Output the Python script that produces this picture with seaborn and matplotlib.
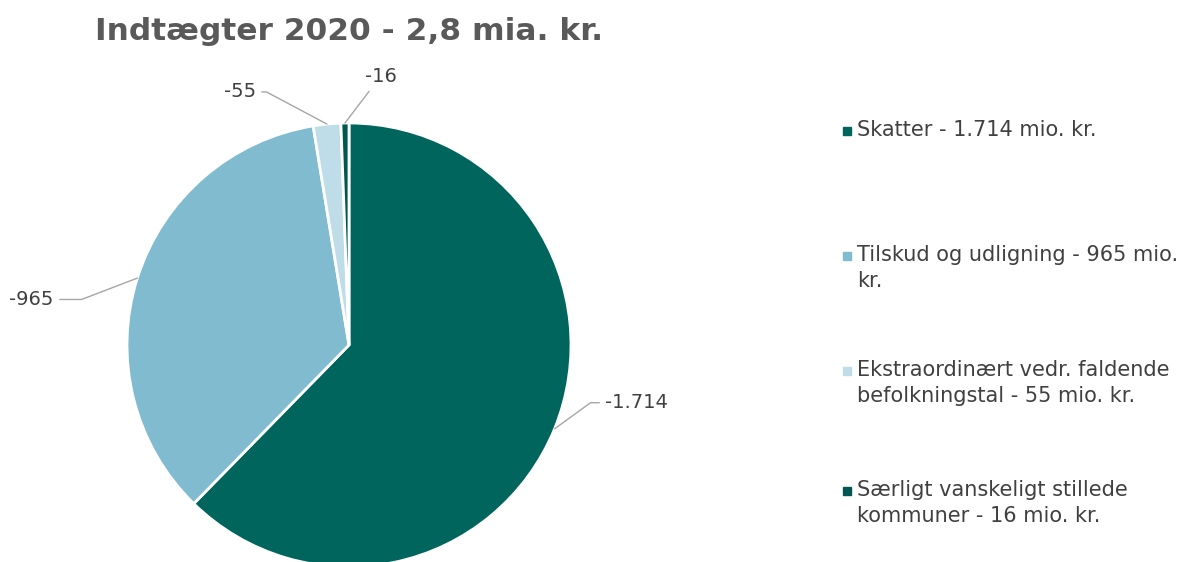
import numpy as np
import matplotlib
matplotlib.use("Agg")
import matplotlib.pyplot as plt
import seaborn as sns

# Data
categories = ["Skatter", "Tilskud og udligning",
              "Ekstraordinært vedr. faldende befolkningstal",
              "Særligt vanskeligt stillede kommuner"]
values = [1714, 965, 55, 16]
value_labels = ["-1.714", "-965", "-55", "-16"]
legend_labels = ["Skatter - 1.714 mio. kr.",
                 "Tilskud og udligning - 965 mio.\nkr.",
                 "Ekstraordinært vedr. faldende\nbefolkningstal - 55 mio. kr.",
                 "Særligt vanskeligt stillede\nkommuner - 16 mio. kr."]
colors = ["#00655C", "#80BBD0", "#BEDDE8", "#00574F"]
title = "Indtægter 2020 - 2,8 mia. kr."

sns.set_theme(style="white")
plt.rcParams['font.family'] = ['DejaVu Sans']

W, H = 1193, 562
fig = plt.figure(figsize=(W / 100, H / 100), dpi=100)

# pie axes: centre at (349, 345) px, radius 222 px
cx, cy, R = 349, 345, 222
ax = fig.add_axes([0, 0, 800 / W, 1])
wedges, _ = ax.pie(values, colors=colors, startangle=90, counterclock=False,
                   wedgeprops=dict(edgecolor="white", linewidth=2))
ax.set_xlim(-cx / R, (800 - cx) / R)
ax.set_ylim(-(H - cy) / R, cy / R)
ax.set_aspect("equal")
ax.axis("off")

# data label placement (text anchor in data units, ha, connector angle)
label_pos = [(1.155, -0.26, "left", 36),
             (-1.33, 0.205, "right", 21),
             (-0.42, 1.14, "right", -28),
             (0.07, 1.21, "left", None)]
for w, lab, (tx, ty, ha, angB) in zip(wedges, value_labels, label_pos):
    mid = np.deg2rad((w.theta1 + w.theta2) / 2)
    xy = (np.cos(mid), np.sin(mid))
    cs = f"angle,angleA=0,angleB={angB},rad=0" if angB is not None else "arc3"
    ax.annotate(lab, xy=xy, xytext=(tx, ty), ha=ha, va="center",
                fontsize=14, color="#404040",
                arrowprops=dict(arrowstyle="-", color="#A6A6A6", lw=1,
                                connectionstyle=cs, shrinkA=2, shrinkB=0))

fig.text(cx / W, 1 - 32 / H, title, ha="center", va="center",
         fontsize=22.5, fontweight="bold", color="#595959")

# legend
row_y = [131, 256, 371, 491]
for lab, col, y in zip(legend_labels, colors, row_y):
    fig.patches.append(plt.Rectangle((843 / W, 1 - (y + 4) / H), 8 / W, 8 / H,
                                     transform=fig.transFigure, color=col))
    fig.text(857 / W, 1 - (y - 11) / H, lab, ha="left", va="top",
             fontsize=15, color="#404040", linespacing=1.35)

fig.savefig("out.png", dpi=100)
